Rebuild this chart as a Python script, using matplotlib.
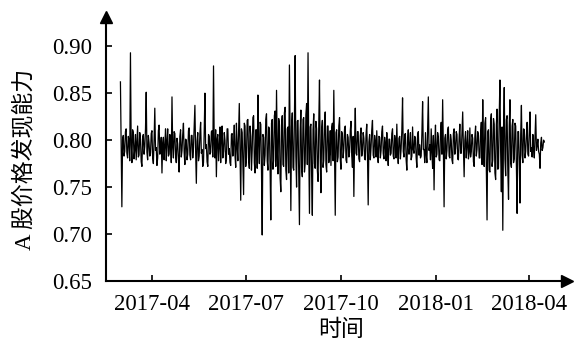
import pandas as pd
import matplotlib
matplotlib.use("Agg")
import matplotlib.pyplot as plt

plt.rcParams['font.family'] = ['Liberation Serif', 'Noto Sans CJK SC']
plt.rcParams['axes.unicode_minus'] = False

# 价格发现能力 (按时间顺序, 2017-03 ~ 2018-04, 每月一段)
vals_mar17 = [0.862, 0.790, 0.729, 0.801, 0.805, 0.783, 0.788, 0.809, 0.812, 0.786, 0.781, 0.804, 0.799, 0.778,
              0.893, 0.795, 0.776, 0.811, 0.808, 0.780, 0.790, 0.806, 0.779, 0.798, 0.815, 0.782, 0.784, 0.808,
              0.801, 0.777, 0.772, 0.803, 0.806, 0.785, 0.793, 0.812, 0.851, 0.787, 0.779, 0.805, 0.797, 0.783]
vals_apr17 = [0.786, 0.807, 0.810, 0.781, 0.775, 0.800, 0.834, 0.789, 0.792, 0.773, 0.781, 0.810, 0.816, 0.785,
              0.788, 0.803, 0.765, 0.797, 0.803, 0.779, 0.794, 0.812, 0.778, 0.799, 0.812, 0.783, 0.785, 0.806,
              0.799, 0.776, 0.846, 0.792, 0.781, 0.809, 0.807, 0.784, 0.776, 0.802, 0.796, 0.779, 0.766, 0.804]
vals_may17 = [0.811, 0.782, 0.789, 0.806, 0.818, 0.787, 0.774, 0.801, 0.800, 0.779, 0.785, 0.810, 0.813, 0.784,
              0.779, 0.805, 0.805, 0.781, 0.792, 0.813, 0.837, 0.788, 0.754, 0.799, 0.808, 0.778, 0.783, 0.807,
              0.819, 0.786, 0.790, 0.772, 0.776, 0.809, 0.850, 0.791, 0.795, 0.777, 0.772, 0.806, 0.804, 0.785]
vals_jun17 = [0.787, 0.809, 0.810, 0.782, 0.879, 0.796, 0.781, 0.811, 0.761, 0.801, 0.806, 0.778, 0.793, 0.814,
              0.776, 0.802, 0.815, 0.781, 0.788, 0.808, 0.800, 0.775, 0.780, 0.812, 0.812, 0.785, 0.791, 0.776,
              0.773, 0.806, 0.807, 0.783, 0.796, 0.816, 0.784, 0.771, 0.818, 0.793, 0.778, 0.809, 0.839, 0.787]
vals_jul17 = [0.736, 0.812, 0.808, 0.775, 0.742, 0.818, 0.815, 0.772, 0.781, 0.821, 0.822, 0.779, 0.770, 0.815,
              0.804, 0.768, 0.789, 0.824, 0.826, 0.776, 0.765, 0.811, 0.811, 0.770, 0.848, 0.795, 0.775, 0.819,
              0.817, 0.767, 0.699, 0.806, 0.803, 0.773, 0.784, 0.822, 0.828, 0.778, 0.768, 0.814, 0.812, 0.771]
vals_aug17 = [0.715, 0.818, 0.822, 0.769, 0.779, 0.826, 0.831, 0.772, 0.853, 0.790, 0.764, 0.823, 0.818, 0.760,
              0.745, 0.816, 0.826, 0.774, 0.772, 0.829, 0.835, 0.768, 0.758, 0.812, 0.814, 0.765, 0.880, 0.798,
              0.725, 0.815, 0.829, 0.771, 0.768, 0.824, 0.890, 0.783, 0.750, 0.820, 0.821, 0.762, 0.710, 0.809]
vals_sep17 = [0.832, 0.770, 0.761, 0.822, 0.824, 0.766, 0.775, 0.827, 0.839, 0.774, 0.893, 0.792, 0.722, 0.814,
              0.817, 0.763, 0.720, 0.811, 0.828, 0.775, 0.770, 0.820, 0.812, 0.768, 0.756, 0.818, 0.864, 0.782,
              0.744, 0.812, 0.821, 0.771, 0.779, 0.819, 0.830, 0.774, 0.766, 0.815, 0.815, 0.776, 0.785, 0.810]
vals_oct17 = [0.773, 0.813, 0.818, 0.778, 0.853, 0.791, 0.720, 0.808, 0.811, 0.777, 0.782, 0.815, 0.824, 0.780,
              0.769, 0.809, 0.806, 0.781, 0.791, 0.812, 0.815, 0.779, 0.776, 0.806, 0.803, 0.782, 0.787, 0.810,
              0.820, 0.784, 0.771, 0.804, 0.740, 0.799, 0.834, 0.786, 0.784, 0.809, 0.809, 0.780, 0.777, 0.805]
vals_nov17 = [0.813, 0.783, 0.788, 0.808, 0.802, 0.780, 0.779, 0.806, 0.817, 0.785, 0.731, 0.798, 0.806, 0.779,
              0.792, 0.811, 0.821, 0.784, 0.781, 0.805, 0.798, 0.782, 0.810, 0.787, 0.776, 0.804, 0.803, 0.781,
              0.789, 0.809, 0.815, 0.786, 0.780, 0.803, 0.796, 0.778, 0.808, 0.788, 0.773, 0.801, 0.801, 0.784]
vals_dec17 = [0.786, 0.807, 0.812, 0.783, 0.780, 0.805, 0.799, 0.781, 0.817, 0.789, 0.775, 0.802, 0.804, 0.780,
              0.791, 0.810, 0.845, 0.788, 0.782, 0.806, 0.807, 0.779, 0.768, 0.800, 0.811, 0.785, 0.793, 0.808,
              0.779, 0.783, 0.814, 0.790, 0.786, 0.804, 0.802, 0.781, 0.771, 0.806, 0.809, 0.784, 0.795, 0.781]
vals_jan18 = [0.783, 0.807, 0.841, 0.790, 0.790, 0.776, 0.808, 0.784, 0.776, 0.809, 0.846, 0.789, 0.795, 0.779,
              0.812, 0.787, 0.770, 0.805, 0.747, 0.796, 0.816, 0.782, 0.785, 0.808, 0.803, 0.779, 0.778, 0.807,
              0.819, 0.785, 0.843, 0.791, 0.729, 0.802, 0.806, 0.780, 0.789, 0.811, 0.814, 0.783, 0.781, 0.806]
vals_feb18 = [0.800, 0.779, 0.775, 0.807, 0.812, 0.785, 0.791, 0.809, 0.806, 0.780, 0.779, 0.803, 0.817, 0.786,
              0.786, 0.808, 0.830, 0.791, 0.761, 0.800, 0.809, 0.781, 0.794, 0.810, 0.780, 0.787, 0.813, 0.782,
              0.788, 0.806, 0.802, 0.777, 0.772, 0.804, 0.815, 0.783, 0.790, 0.809, 0.805, 0.781, 0.781, 0.807]
vals_mar18 = [0.819, 0.774, 0.843, 0.792, 0.772, 0.818, 0.824, 0.770, 0.715, 0.809, 0.811, 0.768, 0.766, 0.821,
              0.828, 0.772, 0.779, 0.823, 0.817, 0.765, 0.758, 0.816, 0.833, 0.769, 0.770, 0.826, 0.864, 0.788,
              0.745, 0.814, 0.704, 0.811, 0.856, 0.780, 0.762, 0.822, 0.826, 0.768, 0.737, 0.815, 0.843, 0.776]
vals_apr18 = [0.771, 0.815, 0.822, 0.776, 0.780, 0.818, 0.815, 0.772, 0.722, 0.809, 0.809, 0.779, 0.733, 0.806,
              0.837, 0.784, 0.776, 0.812, 0.811, 0.781, 0.788, 0.806, 0.819, 0.785, 0.783, 0.809, 0.830, 0.788,
              0.792, 0.782, 0.806, 0.790, 0.781, 0.804, 0.827, 0.789, 0.794, 0.801, 0.788, 0.785, 0.770, 0.797,
              0.803, 0.789, 0.792, 0.800, 0.798]

values = (vals_mar17 + vals_apr17 + vals_may17 + vals_jun17 + vals_jul17 + vals_aug17 +
          vals_sep17 + vals_oct17 + vals_nov17 + vals_dec17 + vals_jan18 + vals_feb18 +
          vals_mar18 + vals_apr18)
dates = pd.date_range('2017-03-01', '2018-04-16', periods=len(values))

yticks = [0.65, 0.70, 0.75, 0.80, 0.85, 0.90]
xticks = pd.to_datetime(['2017-04-01', '2017-07-01', '2017-10-01', '2018-01-01', '2018-04-01'])
xtick_labels = ['2017-04', '2017-07', '2017-10', '2018-01', '2018-04']

fig = plt.figure(figsize=(5.77, 3.45), dpi=100)
ax = fig.add_axes([0.1837, 0.1855, 0.799, 0.765])

ax.plot(dates, values, color='black', linewidth=0.9)

ax.set_xlim(pd.Timestamp('2017-02-15'), pd.Timestamp('2018-05-08'))
ax.set_ylim(0.65, 0.931)
ax.set_yticks(yticks)
ax.set_yticklabels([f'{v:.2f}' for v in yticks])
ax.set_xticks(xticks)
ax.set_xticklabels(xtick_labels)

ax.spines['top'].set_visible(False)
ax.spines['right'].set_visible(False)
ax.spines['left'].set_linewidth(1.5)
ax.spines['bottom'].set_linewidth(1.5)
ax.tick_params(direction='in', length=4, width=1.2, labelsize=16.5)
ax.tick_params(axis='y', pad=10)
ax.tick_params(axis='x', pad=9)

# 坐标轴箭头
ax.plot(1, 0, '>', color='black', markersize=9, transform=ax.transAxes, clip_on=False)
ax.plot(0, 1, '^', color='black', markersize=9, transform=ax.transAxes, clip_on=False)

ax.set_ylabel('A 股价格发现能力', fontsize=16.5)
ax.set_xlabel('时间', fontsize=16.5)
ax.yaxis.set_label_coords(-0.154, 0.46)
ax.xaxis.set_label_coords(0.51, -0.145)

fig.savefig('out.png', dpi=100)
